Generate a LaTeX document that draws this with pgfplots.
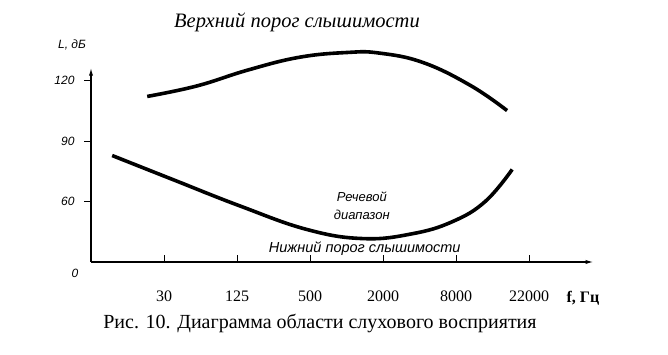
\documentclass[border=0pt]{standalone}
\usepackage{fontspec}
\setmainfont{Liberation Serif}
\setsansfont{Liberation Sans}
\usepackage{pgfplots}
\pgfplotsset{compat=1.18}
\usetikzlibrary{arrows.meta}

\begin{document}
\begin{tikzpicture}[x=1pt,y=1pt]
\path (0,0) rectangle (668,355);
\begin{axis}[
  at={(91pt,93pt)}, anchor=south west,
  x=73pt, y=2.0165pt,
  xmin=0, xmax=6.9, ymin=30, ymax=126.9,
  enlargelimits=false, clip=false,
  axis lines=left,
  axis line style={line width=1.6pt, -{Latex[length=9pt,width=4pt]}},
  xtick={1,2,3,4,5,6},
  xticklabels={30,125,500,2000,8000,22000},
  ytick={60,90,120},
  yticklabels={60,90,120},
  xtick align=inside, ytick align=outside,
  major tick length=7pt,
  tick style={line width=1pt, black},
  xticklabel style={font=\fontsize{16}{16}\selectfont, yshift=-25pt},
  yticklabel style={font=\sffamily\itshape\fontsize{12}{12}\selectfont, xshift=-6pt},
]
\addplot[black, line width=3.6pt, smooth, tension=0.7] coordinates {
 (0.77,112.1) (1.45,117.3) (2.15,125.2) (2.85,131.5)
 (3.51,133.9) (3.95,133.6) (4.55,128.9) (5.20,117.5) (5.70,105.1)};
\addplot[black, line width=3.6pt, smooth, tension=0.7] coordinates {
 (0.29,82.8) (1.12,70.9) (2.04,57.8) (2.96,46.1)
 (3.73,41.6) (4.40,44.0) (4.95,50.0) (5.40,60.0) (5.77,75.9)};
\node[font=\sffamily\itshape\fontsize{13}{13}\selectfont] at (axis cs:3.71,62.5) {Речевой};
\node[font=\sffamily\itshape\fontsize{13}{13}\selectfont] at (axis cs:3.71,53.5) {диапазон};
\node[font=\sffamily\itshape\fontsize{14.5}{14.5}\selectfont] at (axis cs:3.75,36.5) {Нижний порог слышимости};
\node[font=\sffamily\itshape\fontsize{12}{12}\selectfont] at (axis cs:-0.22,24.5) {0};
\end{axis}
\node[font=\itshape\fontsize{20.5}{20.5}\selectfont] at (297,333) {Верхний порог слышимости};
\node[font=\sffamily\itshape\fontsize{12}{12}\selectfont] at (72,310) {L, дБ};
\node[font=\bfseries\fontsize{16}{16}\selectfont] at (583,57) {f, Гц};
\node[font=\fontsize{20}{20}\selectfont] at (320,31) {Рис. 10. Диаграмма области слухового восприятия};
\end{tikzpicture}
\end{document}
